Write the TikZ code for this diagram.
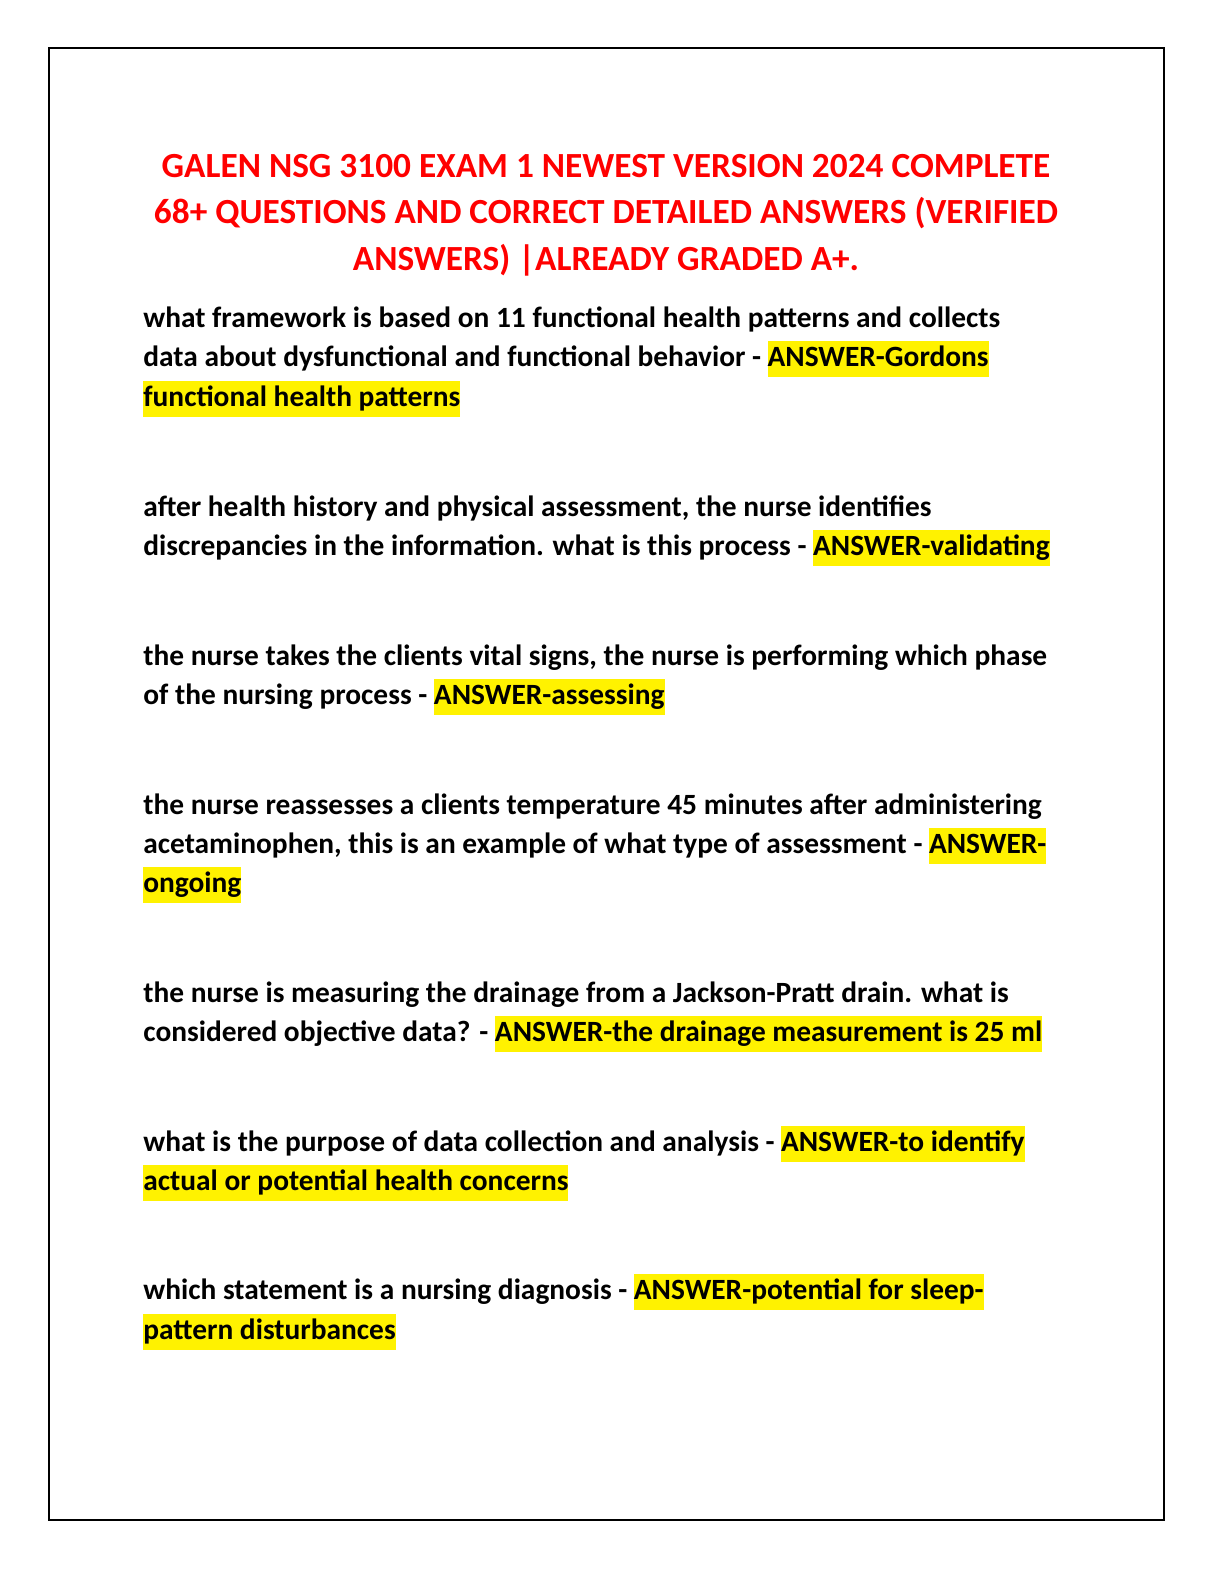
\documentclass[tikz,border=0pt]{standalone}
\usepackage{fontspec}
\setmainfont{Carlito}
\usepackage{xcolor}
\definecolor{titlered}{RGB}{255,0,0}
\newcommand{\hlt}[1]{{\setlength\fboxsep{0pt}\colorbox{yellow}{\strut #1}}}
\begin{document}
\begin{tikzpicture}[x=0.505bp,y=-0.505bp,
  ttl/.style={anchor=base,inner sep=0pt,font=\bfseries\fontsize{17.9}{21}\selectfont,text=titlered},
  body/.style={anchor=base west,inner sep=0pt,font=\bfseries\fontsize{14.9}{18}\selectfont}]
\useasboundingbox (0,0) rectangle (1224,1584);
\draw[line width=1pt] (49,48) rectangle (1164,1520);
\node[ttl] (t1) at (606,177) {GALEN NSG 3100 EXAM 1 NEWEST VERSION 2024 COMPLETE};
\node[ttl] (t2) at (606,223) {68+ QUESTIONS AND CORRECT DETAILED ANSWERS (VERIFIED};
\node[ttl] (t3) at (606,270) {ANSWERS) |ALREADY GRADED A+.};
\node[body] (l1) at (143,327) {what framework is based on 11 functional health patterns and collects};
\node[body] (l2) at (143,366) {data about dysfunctional and functional behavior - \hlt{ANSWER-Gordons}};
\node[body] (l3) at (143,406) {\hlt{functional health patterns}};
\node[body] (l4) at (143,516) {after health history and physical assessment, the nurse identifies};
\node[body] (l5) at (143,555) {discrepancies in the information. what is this process - \hlt{ANSWER-validating}};
\node[body] (l6) at (143,665) {the nurse takes the clients vital signs, the nurse is performing which phase};
\node[body] (l7) at (143,704) {of the nursing process - \hlt{ANSWER-assessing}};
\node[body] (l8) at (143,814) {the nurse reassesses a clients temperature 45 minutes after administering};
\node[body] (l9) at (143,853) {acetaminophen, this is an example of what type of assessment - \hlt{ANSWER-}};
\node[body] (l10) at (143,892) {\hlt{ongoing}};
\node[body] (l11) at (143,1002) {the nurse is measuring the drainage from a Jackson-Pratt drain. what is};
\node[body] (l12) at (143,1041) {considered objective data? - \hlt{ANSWER-the drainage measurement is 25 ml}};
\node[body] (l13) at (143,1151) {what is the purpose of data collection and analysis - \hlt{ANSWER-to identify}};
\node[body] (l14) at (143,1190) {\hlt{actual or potential health concerns}};
\node[body] (l15) at (143,1299) {which statement is a nursing diagnosis - \hlt{ANSWER-potential for sleep-}};
\node[body] (l16) at (143,1339) {\hlt{pattern disturbances}};
\end{tikzpicture}
\end{document}
